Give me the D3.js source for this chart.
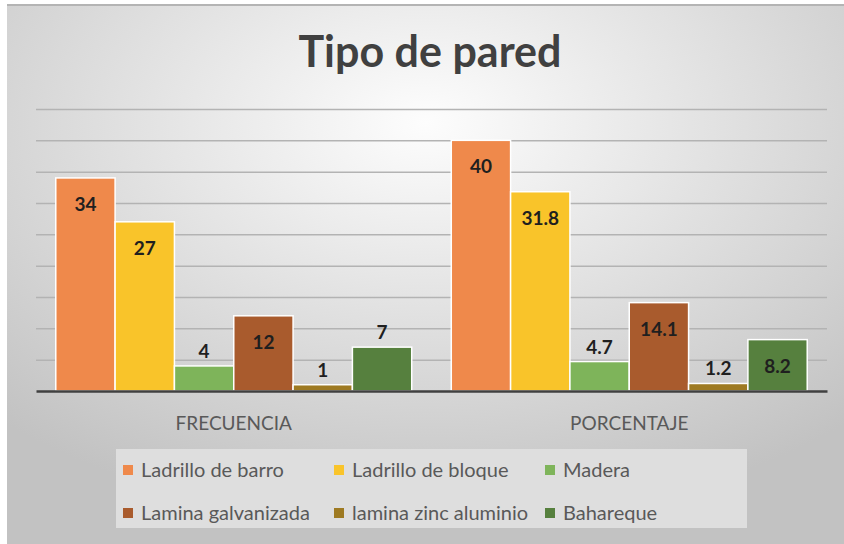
<!DOCTYPE html>
<html>
<head>
<meta charset="utf-8">
<script src="https://cdn.jsdelivr.net/npm/d3@7"></script>
<style>
  body { margin: 0; background: #fff; }
  text { font-family: Lato, "Open Sans", sans-serif; }
</style>
</head>
<body>
<script>
// Step 0: chart data
//= ================================
var categories = ["FRECUENCIA", "PORCENTAJE"];
var seriesNames = ["Ladrillo de barro", "Ladrillo de bloque", "Madera",
  "Lamina galvanizada", "lamina zinc aluminio", "Bahareque"];
var frecuencia = [34, 27, 4, 12, 1, 7];
var porcentaje = [40, 31.8, 4.7, 14.1, 1.2, 8.2];
var yTicks = [0, 5, 10, 15, 20, 25, 30, 35, 40, 45];
var colors = ["#EF894B", "#F9C42A", "#7EB45A", "#A95B2D", "#9E7A22", "#56803E"];

var svgWidth = 844;
var svgHeight = 544;

var svg = d3.select("body").append("svg")
  .attr("width", svgWidth)
  .attr("height", svgHeight);

// background with radial gradient
var defs = svg.append("defs");
var grad = defs.append("radialGradient")
  .attr("id", "bg")
  .attr("cx", "50%").attr("cy", "22%").attr("r", "75%");
grad.append("stop").attr("offset", "0%").attr("stop-color", "#fdfdfd");
grad.append("stop").attr("offset", "100%").attr("stop-color", "#c2c2c2");

svg.append("rect")
  .attr("x", 7).attr("y", 4)
  .attr("width", svgWidth - 7).attr("height", svgHeight - 4)
  .attr("fill", "url(#bg)");
svg.append("line")
  .attr("x1", 7).attr("x2", svgWidth).attr("y1", 5).attr("y2", 5)
  .attr("stroke", "#b4b4b4").attr("stroke-width", 2);

// title
svg.append("text")
  .attr("x", 430).attr("y", 67)
  .attr("text-anchor", "middle")
  .attr("font-size", 43).attr("font-weight", "bold")
  .attr("fill", "#404040")
  .text("Tipo de pared");

// Step 1: scales
//= ================================
var plotLeft = 36, plotRight = 827, plotTop = 109, plotBottom = 391;

var x0 = d3.scaleBand().domain(categories).range([plotLeft, plotRight]);
var bw = x0.bandwidth();
var x1 = d3.scaleBand().domain(seriesNames).range([bw * 0.05, bw * 0.95]);
var y = d3.scaleLinear().domain([0, 45]).range([plotBottom, plotTop]);

// gridlines
var leftAxis = d3.axisLeft(y).tickValues(yTicks.slice(1))
  .tickSize(-(plotRight - plotLeft)).tickFormat("");
var grid = svg.append("g")
  .attr("transform", `translate(${plotLeft},0)`)
  .call(leftAxis);
grid.select(".domain").remove();
grid.selectAll("line").attr("stroke", "#b3b3b3").attr("stroke-width", 1.5);

// Step 2: bars
//= ================================
var rows = categories.map(function(c, i) {
  var vals = i === 0 ? frecuencia : porcentaje;
  return { cat: c, values: seriesNames.map((s, j) => ({ name: s, value: vals[j], color: colors[j] })) };
});

var groups = svg.selectAll(".grp").data(rows).enter().append("g")
  .attr("transform", d => `translate(${x0(d.cat)},0)`);

groups.selectAll("rect").data(d => d.values).enter().append("rect")
  .attr("x", d => x1(d.name))
  .attr("y", d => y(d.value))
  .attr("width", x1.bandwidth())
  .attr("height", d => y(0) - y(d.value))
  .attr("fill", d => d.color)
  .attr("stroke", "#ffffff")
  .attr("stroke-width", 1.5);

// data labels: inside top if bar is tall enough, otherwise above
groups.selectAll(".lbl").data(d => d.values).enter().append("text")
  .attr("x", d => x1(d.name) + x1.bandwidth() / 2)
  .attr("y", function(d) {
    var h = y(0) - y(d.value);
    return h > 48 ? y(d.value) + 33 : y(d.value) - 8;
  })
  .attr("text-anchor", "middle")
  .attr("font-size", 19).attr("font-weight", "bold")
  .attr("fill", "#1f1f1f")
  .text(d => d.value);

// baseline
var bottomAxis = d3.axisBottom(x0).tickSize(0).tickPadding(26);
var xAxis = svg.append("g")
  .attr("transform", `translate(0,${plotBottom})`)
  .call(bottomAxis);
xAxis.select(".domain").attr("stroke", "#404040").attr("stroke-width", 2.5);
xAxis.selectAll("text")
  .attr("font-size", 19).attr("fill", "#595959")
  .style("font-family", "Lato, 'Open Sans', sans-serif");

// Step 3: legend
//= ================================
svg.append("rect")
  .attr("x", 116).attr("y", 449)
  .attr("width", 631).attr("height", 79)
  .attr("fill", "#dedede");

var legend = svg.selectAll(".leg").data(seriesNames).enter().append("g")
  .attr("transform", (d, i) => `translate(${123 + (i % 3) * 211},${468 + Math.floor(i / 3) * 43})`);
legend.append("rect")
  .attr("x", 0).attr("y", -3)
  .attr("width", 10).attr("height", 10)
  .attr("fill", (d, i) => colors[i]);
legend.append("text")
  .attr("x", 18).attr("y", 9)
  .attr("font-size", 20).attr("fill", "#595959")
  .text(d => d);
</script>
</body>
</html>
